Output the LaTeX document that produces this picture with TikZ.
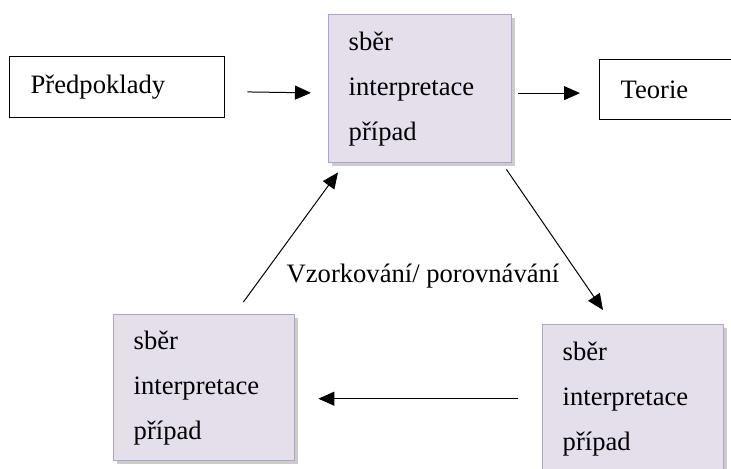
\documentclass[tikz,border=0pt]{standalone}
\usepackage{fontspec}
\setmainfont{Liberation Serif}
\usetikzlibrary{arrows.meta,shadows}
\definecolor{lavfill}{HTML}{E5DFEC}
\definecolor{lavline}{HTML}{B3A2C7}

\begin{document}
\begin{tikzpicture}[x=0.5pt,y=-0.5pt,>={Triangle[length=8pt,width=7pt]},
        font=\fontsize{13.3}{22.5}\selectfont,
        plainbox/.style={draw,line width=0.7pt,anchor=north west,align=left,
            inner xsep=10.5pt,inner ysep=0pt},
        lavbox/.style={draw=lavline,line width=0.7pt,fill=lavfill,anchor=north west,
            align=left,inner xsep=10pt,inner ysep=0pt,
            drop shadow={shadow xshift=1.5pt,shadow yshift=-1.5pt,fill=black!50,opacity=0.4}},
        link/.style={->,line width=0.5pt}]
    \useasboundingbox (0,0) rectangle (731,468);

    % boxes
    \node[plainbox,text width=86.5pt,minimum height=30.5pt] (pred) at (9,56) {Předpoklady};
    \node[lavbox,text width=71.5pt,minimum height=74pt] (top) at (328,14) {sběr\\interpretace\\případ};
    \node[plainbox,text width=52pt,minimum height=30pt] (teorie) at (599,59) {Teorie};
    \node[lavbox,text width=70.5pt,minimum height=73pt] (lb) at (113,314) {sběr\\interpretace\\případ};
    \node[lavbox,text width=70.5pt,minimum height=74pt] (rb) at (542,324) {sběr\\interpretace\\případ};

    \node (vzork) at (423,276) {Vzorkování/ porovnávání};

    % arrows
    \draw[link,shorten <=11pt,shorten >=8.5pt] ([yshift=-2.2pt]pred.east) -- ([yshift=-2.2pt]top.west);
    \draw[link,shorten <=3pt,shorten >=9.5pt] ([yshift=-2.2pt]top.east) -- ([yshift=-2.2pt]top.east -| teorie.west);
    \draw[link] ([xshift=-3pt,yshift=-3pt]top.south east) -- ([xshift=30.5pt,yshift=7pt]rb.north west);
    \draw[link,shorten <=12pt,shorten >=11.5pt] (rb.west) -- (rb.west -| lb.east);
    \draw[link] ([xshift=-26pt,yshift=6pt]lb.north east) -- ([xshift=5pt,yshift=-4.5pt]top.south west);
\end{tikzpicture}
\end{document}
